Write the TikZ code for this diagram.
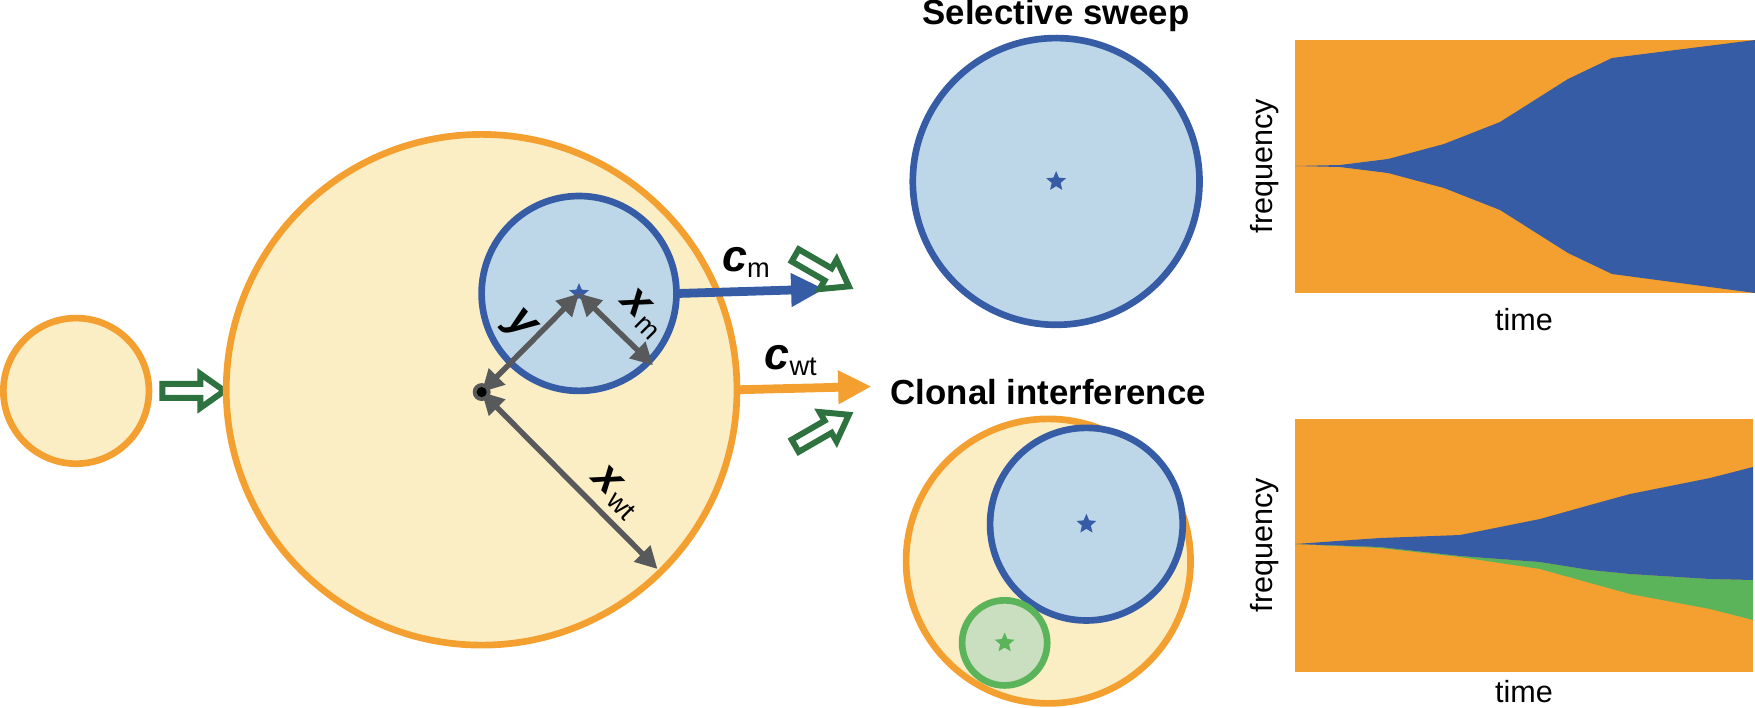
\documentclass[tikz,border=0pt]{standalone}
\usepackage{fontspec}
\setmainfont{Liberation Sans}
\usetikzlibrary{shapes.geometric,arrows.meta}
\definecolor{org}{HTML}{F4A030}
\definecolor{cream}{HTML}{FBEDC4}
\definecolor{blu}{HTML}{365CA6}
\definecolor{lblu}{HTML}{BDD7E9}
\definecolor{grn}{HTML}{5BB45A}
\definecolor{lgrn}{HTML}{C9DFC0}
\definecolor{dgrn}{HTML}{2E7240}
\definecolor{gry}{HTML}{58595B}
\tikzset{
 circ/.style={line width=3.8pt},
 dim/.style={gry,line width=3.1pt,{Triangle[length=12.5pt,width=12.5pt]}-{Triangle[length=12.5pt,width=12.5pt]}},
 flow/.style={line width=5pt,-{Triangle[length=19pt,width=18pt]}},
 lab/.style={font=\fontsize{17.4}{17.4}\selectfont},
 ttl/.style={font=\bfseries\fontsize{19.8}{19.8}\selectfont},
 st/.style={star,star points=5,star point ratio=2.2,minimum size=11.8pt,inner sep=0pt},
 hollow/.pic={\draw[dgrn,line width=3.4pt,fill=white,line join=miter] (0,-7)--(38,-7)--(38,-17)--(62,0)--(38,17)--(38,7)--(0,7)--cycle;}
}
\newcommand{\bigit}[1]{\textbf{\textit{\fontsize{25.5}{25.5}\selectfont #1}}}
\newcommand{\subs}[1]{\raisebox{-3.5pt}{\fontsize{15.5}{15.5}\selectfont #1}}
\begin{document}
\begin{tikzpicture}[x=0.02cm,y=-0.02cm]
\useasboundingbox (0,0) rectangle (1755,707);
% plot top
\fill[org] (1295,40) rectangle (1755,293);
\fill[blu] (1295,166)--(1340,165)--(1388,159)--(1444,144)--(1500,122)--(1568,79)--(1612,58)--(1755,40)--(1755,293)--(1612,274)--(1568,253)--(1500,210)--(1444,188)--(1388,173)--(1340,167)--cycle;
% plot bottom
\fill[org] (1295,419) rectangle (1753,672);
\fill[grn] (1295,544)--(1380,547)--(1460,556)--(1540,562)--(1590,570)--(1630,574)--(1710,579)--(1753,580)--(1753,620)--(1710,609)--(1630,594)--(1590,583)--(1540,569)--(1460,557)--(1380,548)--cycle;
\fill[blu] (1295,544)--(1380,538)--(1460,535)--(1540,519)--(1590,505)--(1630,494)--(1710,478)--(1753,467)--(1753,580)--(1710,579)--(1630,574)--(1590,570)--(1540,562)--(1460,556)--(1380,547)--cycle;
\node[lab,rotate=90] (f1) at (1265,166) {frequency};
\node[lab,rotate=90] (f2) at (1265,545) {frequency};
\node[lab] (t1) at (1524,320) {time};
\node[lab] (t2) at (1524,692) {time};
\begin{scope}[scale=1.12]
% left
\draw[circ,org,fill=cream] (68,349) circle (65);
\pic at (145,349) {hollow};
\draw[circ,org,fill=cream] (430,348) circle (228);
\coordinate (cwt0) at (656,348);
\coordinate (cwt1) at (778,345);
\draw[flow,org] (cwt0)--(cwt1);
\node at (706,322) {\bigit{c}\subs{wt}};
\draw[circ,blu,fill=lblu] (517,262) circle (87);
\coordinate (cm0) at (605,262);
\coordinate (cm1) at (736,258);
\draw[flow,blu] (cm0)--(cm1);
\node at (666,234) {\bigit{c}\subs{m}};
\node[st,fill=blu] (s0) at (517,262) {};
\coordinate (o) at (430,350);
\coordinate (pm) at (583,326);
\coordinate (pwt) at (587,508);
\draw[dim] (o)--(s0.center);
\draw[dim] (s0.center)--(pm);
\draw[dim] (o)--(pwt);
\fill[gry] (o) circle (8);\fill[black] (o) circle (4.5);
\node[rotate=-45] at (464,292) {\bigit{y}};
\node[rotate=-45] at (574,280) {\bigit{x}\subs{m}};
\node[rotate=-45] at (550,440) {\bigit{x}\subs{wt}};
\pic[rotate=-30] at (710,228) {hollow};
\pic[rotate=30] at (710,398) {hollow};
% selective sweep
\node[ttl] (tt1) at (943,14) {Selective sweep};
\draw[circ,blu,fill=lblu] (943,162) circle (128);
\node[st,fill=blu] at (943,162) {};
% clonal
\node[ttl] (tt2) at (936,350) {Clonal interference};
\draw[circ,org,fill=cream] (936,501) circle (127);
\draw[circ,blu,fill=lblu] (970,468) circle (86);
\node[st,fill=blu] at (970,468) {};
\draw[circ,grn,fill=lgrn] (897,574) circle (38);
\node[st,fill=grn] at (897,574) {};
\end{scope}
\end{tikzpicture}
\end{document}
